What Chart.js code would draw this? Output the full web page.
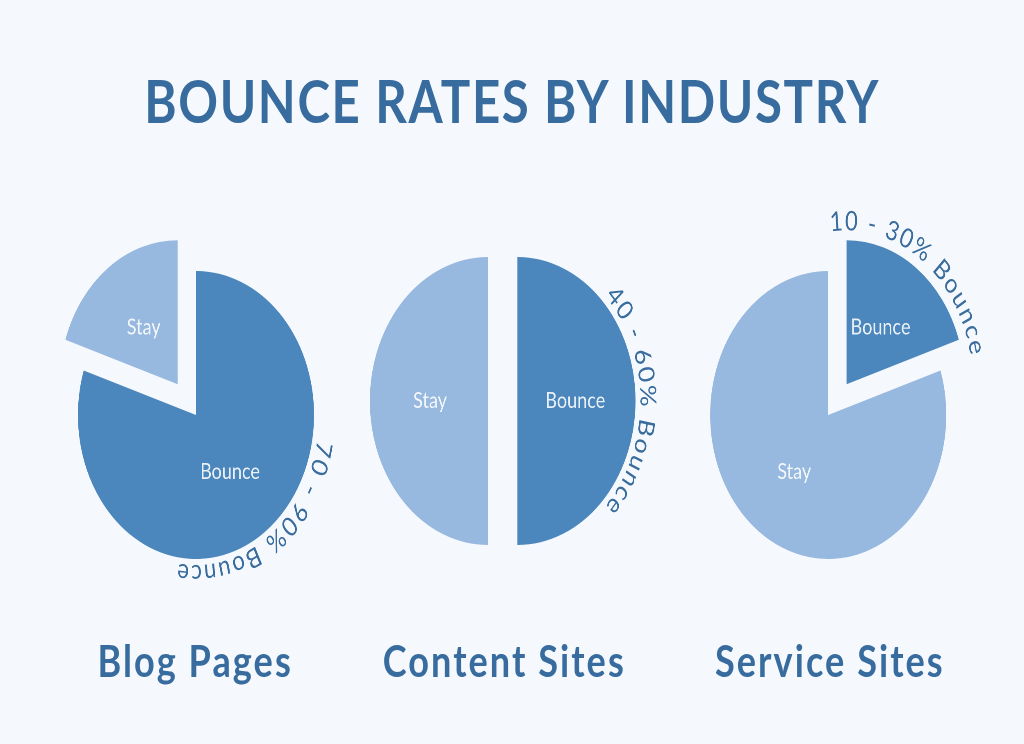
<!DOCTYPE html>
<html>
<head>
<meta charset="utf-8">
<title>Bounce Rates by Industry</title>
<script src="https://cdn.jsdelivr.net/npm/chart.js@4.4.1/dist/chart.umd.min.js"></script>
<style>
    html, body {
        margin: 0;
        padding: 0;
        background: #f5f9fd;
        overflow: hidden;
    }
    /* the whole picture is a bit narrower than it is tall, so draw wide and squeeze */
    #page {
        position: absolute;
        left: 0;
        top: 0;
        width: 1249px;
        height: 744px;
        transform: scaleX(0.82);
        transform-origin: 0 0;
        font-family: Lato, "Open Sans", sans-serif;
        color: #386c9e;
    }
    #title {
        position: absolute;
        left: 0;
        top: 70px;
        width: 1249px;
        text-align: center;
        font-size: 60px;
        font-weight: bold;
        line-height: 1;
        letter-spacing: 2px;
        white-space: nowrap;
    }
    .label {
        position: absolute;
        top: 638px;
        width: 400px;
        text-align: center;
        font-size: 44px;
        font-weight: bold;
        line-height: 1;
        letter-spacing: 2.5px;
        white-space: nowrap;
    }
    canvas {
        position: absolute;
    }
</style>
</head>
<body>
<div id="page">
    <div id="title">BOUNCE RATES BY INDUSTRY</div>
    <canvas id="pie0" width="440" height="440" style="left:19px;top:195px"></canvas>
    <canvas id="pie1" width="440" height="440" style="left:393px;top:181px"></canvas>
    <canvas id="pie2" width="440" height="440" style="left:790px;top:195px"></canvas>
    <div class="label" style="left:38px">Blog Pages</div>
    <div class="label" style="left:415px">Content Sites</div>
    <div class="label" style="left:812px">Service Sites</div>
</div>
<script>
const industries = ['Blog Pages', 'Content Sites', 'Service Sites'];
const sliceLabels = ['Bounce', 'Stay'];
const bounceShare = [80, 50, 20];
const stayShare = [20, 50, 80];
const bounceRanges = ['70 - 90% Bounce', '40 - 60% Bounce', '10 - 30% Bounce'];

const DARK = '#4b87bd';
const LIGHT = '#97b8df';
const TEXT = '#3a6d9e';

// how far each slice is pulled away from the middle, in px
const explode = [[0, 38], [18, 18], [38, 0]];
const rimGap = [6, 6, 10];

// slide the exploded slices out along their own mid angle
const pullSlices = {
    id: 'pullSlices',
    afterDatasetUpdate(chart, args, opts) {
        chart.getDatasetMeta(args.index).data.forEach((arc, i) => {
            const d = opts.by[i] || 0;
            const mid = (arc.startAngle + arc.endAngle) / 2;
            arc.x += Math.cos(mid) * d;
            arc.y += Math.sin(mid) * d;
        });
    }
};

const sliceText = {
    id: 'sliceText',
    afterDatasetsDraw(chart, args, opts) {
        const ctx = chart.ctx;
        const meta = chart.getDatasetMeta(0);

        ctx.save();
        ctx.font = '22px Lato, sans-serif';
        ctx.fillStyle = 'rgba(255, 255, 255, 0.88)';
        ctx.textAlign = 'center';
        ctx.textBaseline = 'middle';
        meta.data.forEach((arc, i) => {
            const mid = (arc.startAngle + arc.endAngle) / 2;
            const d = arc.outerRadius * 0.49;
            ctx.fillText(chart.data.labels[i], arc.x + Math.cos(mid) * d, arc.y + Math.sin(mid) * d);
        });
        ctx.restore();

        // range text bent round the outside of the bounce slice
        const arc = meta.data[0];
        const mid = (arc.startAngle + arc.endAngle) / 2;
        const chars = [...opts.text];
        ctx.save();
        ctx.font = '27px Lato, sans-serif';
        ctx.fillStyle = TEXT;
        ctx.textAlign = 'center';
        ctx.textBaseline = 'alphabetic';
        const track = 3;
        const widths = chars.map(c => ctx.measureText(c).width);
        const total = widths.reduce((a, b) => a + b, 0) + track * (chars.length - 1);
        const rBase = arc.outerRadius + opts.gap;
        const rMid = rBase + 10;
        let a = mid - total / 2 / rMid;
        chars.forEach((c, i) => {
            const ac = a + widths[i] / 2 / rMid;
            ctx.save();
            ctx.translate(arc.x + Math.cos(ac) * rBase, arc.y + Math.sin(ac) * rBase);
            ctx.rotate(ac + Math.PI / 2);
            ctx.fillText(c, 0, 0);
            ctx.restore();
            a += (widths[i] + track) / rMid;
        });
        ctx.restore();
    }
};

function buildPie(index) {
    const ctx = document.getElementById('pie' + index).getContext('2d');

    return new Chart(ctx, {
        type: 'pie',
        data: {
            labels: sliceLabels,
            datasets: [{
                label: industries[index],
                data: [bounceShare[index], stayShare[index]],
                backgroundColor: [DARK, LIGHT],
                borderWidth: 0,
                radius: 144
            }]
        },
        options: {
            responsive: false,
            animation: false,
            devicePixelRatio: 2,
            events: [],
            layout: { padding: 0 },
            plugins: {
                legend: { display: false },
                tooltip: { enabled: false },
                pullSlices: { by: explode[index] },
                sliceText: { text: bounceRanges[index], gap: rimGap[index] }
            }
        },
        plugins: [pullSlices, sliceText]
    });
}

industries.forEach((name, i) => buildPie(i));
</script>
</body>
</html>
